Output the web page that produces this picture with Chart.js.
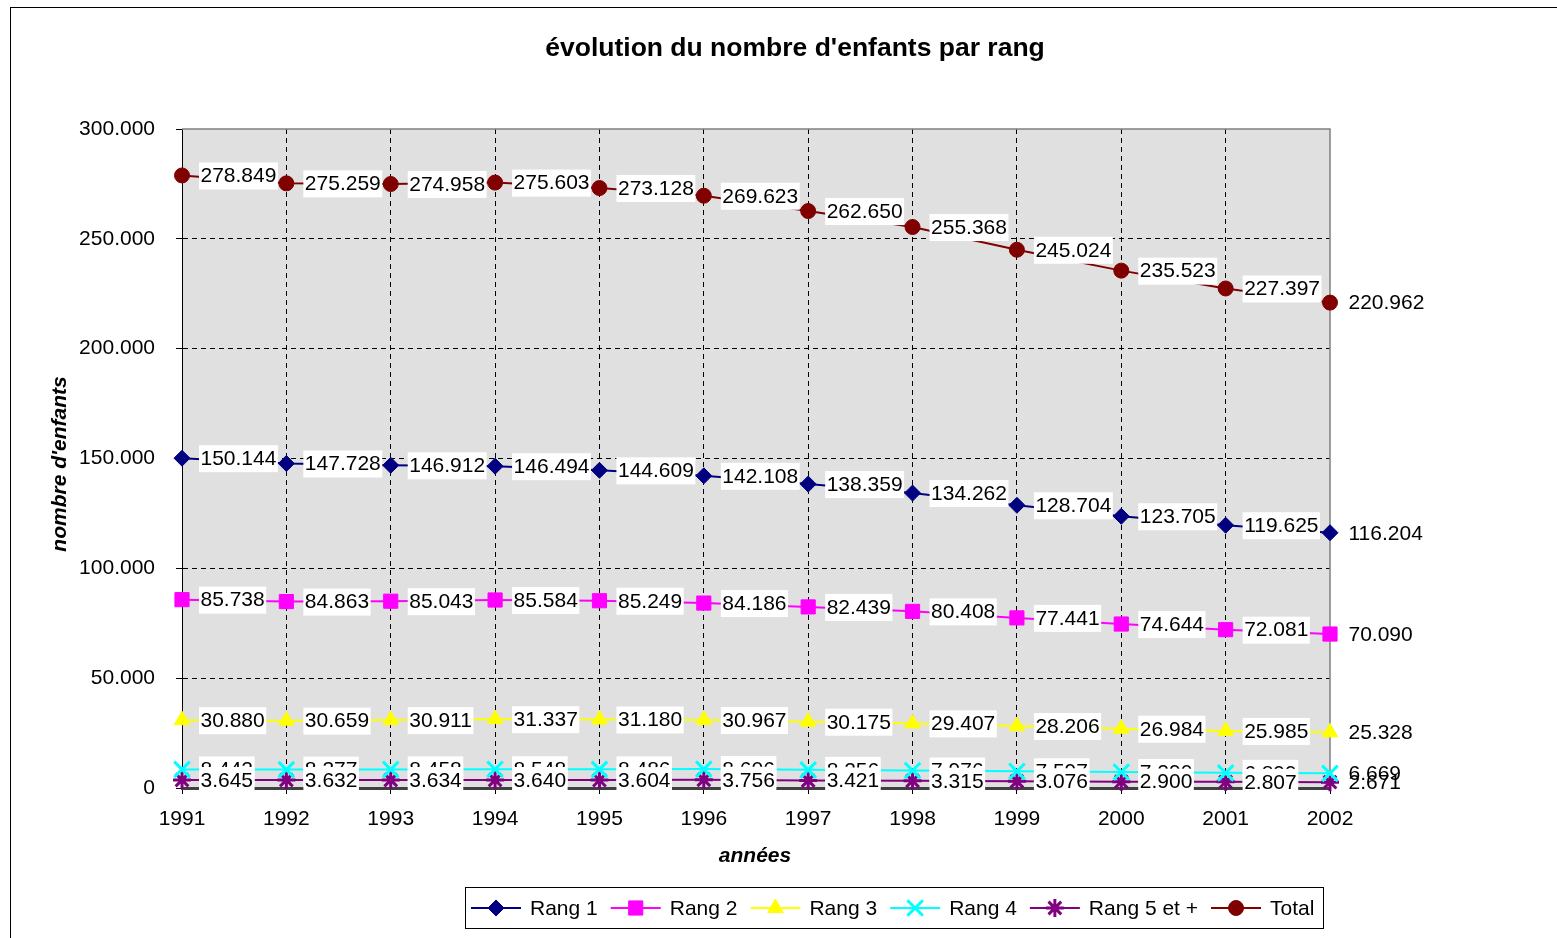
<!DOCTYPE html>
<html>
<head>
<meta charset="utf-8">
<script src="https://cdn.jsdelivr.net/npm/chart.js@4.4.1/dist/chart.umd.min.js"></script>
<style>
  html, body { margin: 0; padding: 0; background: #fff; }
</style>
</head>
<body>
<canvas id="lineChart" width="1557" height="938"></canvas>
<script>
const years = ['1991', '1992', '1993', '1994', '1995', '1996', '1997', '1998', '1999', '2000', '2001', '2002'];
const rang1 = [150144, 147728, 146912, 146494, 144609, 142108, 138359, 134262, 128704, 123705, 119625, 116204];
const rang2 = [85738, 84863, 85043, 85584, 85249, 84186, 82439, 80408, 77441, 74644, 72081, 70090];
const rang3 = [30880, 30659, 30911, 31337, 31180, 30967, 30175, 29407, 28206, 26984, 25985, 25328];
const rang4 = [8442, 8377, 8458, 8548, 8486, 8606, 8256, 7976, 7597, 7290, 6899, 6669];
const rang5 = [3645, 3632, 3634, 3640, 3604, 3756, 3421, 3315, 3076, 2900, 2807, 2671];
const total = [278849, 275259, 274958, 275603, 273128, 269623, 262650, 255368, 245024, 235523, 227397, 220962];
const yTicks = [0, 50000, 100000, 150000, 200000, 250000, 300000];

const FONT = '"Liberation Sans", Arial, sans-serif';

// 278849 -> "278.849"
function fmt(v) {
    return String(Math.round(v)).replace(/\B(?=(\d{3})+(?!\d))/g, '.');
}

function serie(label, data, color, style, radius, bw) {
    return {
        label: label,
        data: data,
        borderColor: color,
        backgroundColor: color,
        borderWidth: 2,
        pointStyle: style,
        pointRadius: radius,
        pointHoverRadius: radius,
        pointBackgroundColor: color,
        pointBorderColor: color,
        pointBorderWidth: bw,
        tension: 0,
        clip: false,
    };
}

const datasets = [
    serie('Rang 1', rang1, '#000080', 'rectRot', 8, 1),
    serie('Rang 2', rang2, '#ff00ff', 'rect', 10, 1),
    serie('Rang 3', rang3, '#ffff00', 'triangle', 9, 1),
    serie('Rang 4', rang4, '#00ffff', 'crossRot', 11, 3),
    serie('Rang 5 et +', rang5, '#800080', 'star', 9, 3),
    serie('Total', total, '#800000', 'circle', 7.5, 1),
];

const decor = {
    id: 'decor',
    beforeDraw(chart) {
        const ctx = chart.ctx, a = chart.chartArea;
        ctx.save();
        ctx.fillStyle = '#fff';
        ctx.fillRect(0, 0, chart.width, chart.height);
        ctx.strokeStyle = '#000';
        ctx.lineWidth = 1;
        ctx.strokeRect(10.5, 7.5, 1600, 1000);
        ctx.fillStyle = '#e0e0e0';
        ctx.fillRect(a.left, a.top, a.right - a.left, a.bottom - a.top);
        ctx.restore();
    },
    beforeDatasetsDraw(chart) {
        const ctx = chart.ctx, a = chart.chartArea;
        ctx.save();
        ctx.strokeStyle = '#808080';
        ctx.lineWidth = 1.5;
        ctx.beginPath();
        ctx.moveTo(a.left, a.top);
        ctx.lineTo(a.right, a.top);
        ctx.lineTo(a.right, a.bottom);
        ctx.stroke();
        ctx.restore();
    },
    afterDatasetsDraw(chart) {
        const ctx = chart.ctx;
        ctx.save();
        ctx.font = '21px ' + FONT;
        ctx.textBaseline = 'middle';
        chart.data.datasets.forEach((ds, i) => {
            const meta = chart.getDatasetMeta(i);
            meta.data.forEach((pt, j) => {
                const txt = fmt(ds.data[j]);
                const w = ctx.measureText(txt).width;
                const x = pt.x + 17, y = pt.y;
                if (j < ds.data.length - 1) {
                    ctx.fillStyle = '#fff';
                    ctx.fillRect(x, y - 13, w + 3, 27);
                }
                ctx.fillStyle = '#000';
                ctx.fillText(txt, x + 1.5, y + 1);
            });
        });
        ctx.restore();
    },
    afterDraw(chart) {
        const ctx = chart.ctx;
        ctx.save();
        ctx.fillStyle = '#000';
        ctx.textAlign = 'center';
        ctx.textBaseline = 'middle';
        ctx.font = 'bold 26.5px ' + FONT;
        ctx.fillText("évolution du nombre d'enfants par rang", 795, 49);
        ctx.font = 'italic bold 21px ' + FONT;
        ctx.fillText('années', 755, 856);
        ctx.save();
        ctx.translate(60, 464);
        ctx.rotate(-Math.PI / 2);
        ctx.fillText("nombre d'enfants", 0, 0);
        ctx.restore();

        // legend
        ctx.strokeStyle = '#000';
        ctx.lineWidth = 1;
        ctx.strokeRect(465.5, 887.5, 858, 41);
        ctx.font = '21px ' + FONT;
        ctx.textAlign = 'left';
        let x = 471;
        const ly = 908;
        chart.data.datasets.forEach((ds) => {
            ctx.strokeStyle = ds.borderColor;
            ctx.lineWidth = 2;
            ctx.beginPath();
            ctx.moveTo(x, ly);
            ctx.lineTo(x + 50, ly);
            ctx.stroke();
            ctx.fillStyle = ds.borderColor;
            ctx.strokeStyle = ds.borderColor;
            ctx.lineWidth = ds.pointBorderWidth;
            Chart.helpers.drawPoint(ctx, {
                pointStyle: ds.pointStyle,
                radius: ds.pointRadius,
                borderWidth: ds.pointBorderWidth,
                rotation: 0,
            }, x + 25, ly);
            ctx.fillStyle = '#000';
            const t = ds.label;
            ctx.fillText(t, x + 59, ly + 1);
            x += 59 + ctx.measureText(t).width + 13;
        });
        ctx.restore();
    }
};

new Chart(document.getElementById('lineChart'), {
    type: 'line',
    data: { labels: years, datasets: datasets },
    options: {
        responsive: false,
        animation: false,
        layout: { padding: { left: 0, top: 129, right: 227, bottom: 0 } },
        plugins: {
            legend: { display: false },
            title: { display: false },
            tooltip: { enabled: false },
        },
        scales: {
            x: {
                offset: false,
                afterFit(scale) { scale.height = 150; },
                grid: {
                    color: (c) => (c.index === 0 || c.index === years.length - 1) ? 'rgba(0,0,0,0)' : '#000',
                    lineWidth: 1,
                    tickLength: 6,
                    tickColor: '#000',
                    tickBorderDash: [],
                },
                border: { display: true, color: '#404040', width: 3, dash: [5, 4] },
                ticks: {
                    color: '#000',
                    font: { family: FONT, size: 21 },
                    padding: 13,
                    maxRotation: 0,
                    autoSkip: false,
                },
            },
            y: {
                min: 0,
                max: 300000,
                afterFit(scale) { scale.width = 182; },
                afterBuildTicks(scale) { scale.ticks = yTicks.map(v => ({ value: v })); },
                grid: {
                    color: (c) => (c.index === 0 || c.index === yTicks.length - 1) ? 'rgba(0,0,0,0)' : '#000',
                    lineWidth: 1,
                    tickLength: 6,
                    tickColor: '#000',
                    tickBorderDash: [],
                },
                border: { display: true, color: '#000', width: 1, dash: [5, 4] },
                ticks: {
                    color: '#000',
                    font: { family: FONT, size: 21 },
                    padding: 21,
                    callback: (v) => fmt(v),
                },
            },
        },
    },
    plugins: [decor],
});
</script>
</body>
</html>
